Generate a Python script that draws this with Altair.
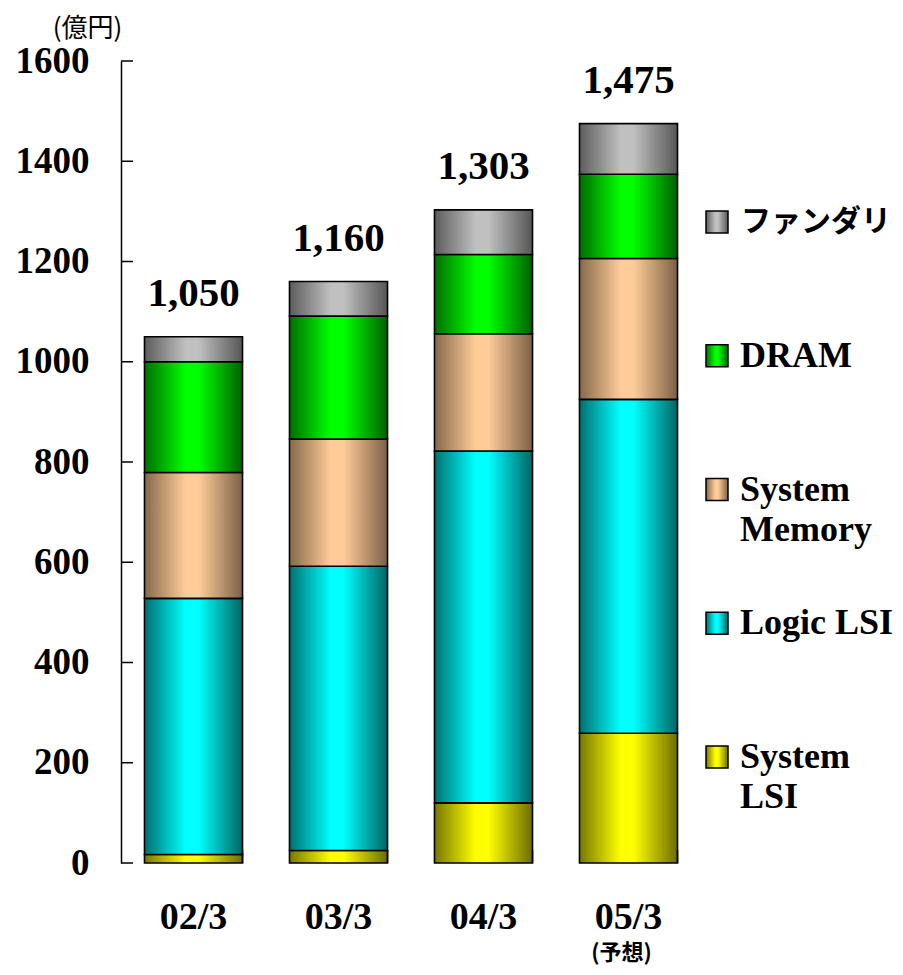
import altair as alt
import pandas as pd

# ---------------- data ----------------
categories = ["02/3", "03/3", "04/3", "05/3"]
notes = ["", "", "", "(予想)"]
series = ["System LSI", "Logic LSI", "System Memory", "DRAM", "ファンダリ"]
system_lsi = [17, 25, 120, 259]
logic_lsi = [511, 567, 702, 666]
system_memory = [251, 254, 234, 281]
dram = [221, 245, 158, 168]
foundry = [50, 69, 89, 101]
y_ticks = [0, 200, 400, 600, 800, 1000, 1200, 1400, 1600]

legend_order = ["ファンダリ", "DRAM", "System Memory", "Logic LSI", "System LSI"]
legend_line1 = ["ファンダリ", "DRAM", "System", "Logic LSI", "System"]
legend_line2 = ["", "", "Memory", "", "LSI"]

values_by_series = [system_lsi, logic_lsi, system_memory, dram, foundry]
rows = []
for si, (s, vals) in enumerate(zip(series, values_by_series)):
    for c, v in zip(categories, vals):
        rows.append({"cat": c, "series": s, "value": v, "order": si})
df = pd.DataFrame(rows)
tick_df = pd.DataFrame({"v": y_ticks})
cat_df = pd.DataFrame({"cat": categories, "note": notes})
leg_df = pd.DataFrame({"series": legend_order, "line1": legend_line1, "line2": legend_line2})

# ---------------- styles ----------------
def grad(dark_l, bright, dark_r):
    return alt.Gradient(
        gradient="linear", x1=0, x2=1, y1=0, y2=0,
        stops=[
            alt.GradientStop(offset=0, color=dark_l),
            alt.GradientStop(offset=0.42, color=bright),
            alt.GradientStop(offset=0.55, color=bright),
            alt.GradientStop(offset=1, color=dark_r),
        ],
    )

fills = {
    "System LSI": grad("#777700", "#ffff00", "#6c6c00"),
    "Logic LSI": grad("#007070", "#00ffff", "#006464"),
    "System Memory": grad("#86684a", "#ffcc99", "#7c6046"),
    "DRAM": grad("#006e00", "#00ff00", "#006000"),
    "ファンダリ": grad("#5c5c5c", "#c0c0c0", "#565656"),
}

W, H = 580, 802
SERIF = "Liberation Serif"
CJK = "Noto Sans CJK JP"

xscale = alt.Scale(paddingInner=0.324, paddingOuter=0.162)
yscale = alt.Scale(domain=[0, 1600], nice=False)

xaxis = alt.Axis(
    title=None, labels=False, ticks=False,
    domainColor="black", domainWidth=1.5, grid=False,
)
yaxis = alt.Axis(
    values=y_ticks, format="d", title="(億円)", titleAngle=0, titleX=-34, titleY=-33,
    titleAlign="center", titleBaseline="middle", titleFont=CJK,
    titleFontSize=26, titleFontWeight="normal", titleColor="black",
    labelFont=SERIF, labelFontWeight="bold", labelFontSize=37,
    labelColor="black", labelPadding=32, ticks=False,
    domainColor="black", domainWidth=1.5, grid=False,
    labelFlush=False, labelOverlap=False,
)

def X(axis=None, **kw):
    return alt.X("cat:N", sort=categories, scale=xscale, axis=axis, **kw)

def Yq(field, axis=None):
    return alt.Y(field, scale=yscale, axis=axis)

base = alt.Chart(df).transform_stack(
    stack="value", groupby=["cat"], as_=["y0", "y1"],
    sort=[alt.SortField("order", order="ascending")],
)

layers = []
for i, s in enumerate(series):
    layers.append(
        base.transform_filter(alt.datum.series == s)
        .mark_bar(fill=fills[s], stroke="black", strokeWidth=1.6)
        .encode(
            x=X(xaxis if i == 0 else None),
            y=Yq("y0:Q", yaxis if i == 0 else None),
            y2="y1:Q",
        )
    )

# inward ticks
layers.append(
    alt.Chart(tick_df).mark_rule(color="black", strokeWidth=1.5).encode(
        y=Yq("v:Q"), x=alt.value(0), x2=alt.value(12),
    )
)
layers.append(
    alt.Chart(cat_df).mark_rule(color="black", strokeWidth=1.5).encode(
        x=X(None, bandPosition=1), y=alt.value(H - 13), y2=alt.value(H),
    )
)
# totals
layers.append(
    alt.Chart(df).transform_aggregate(total="sum(value)", groupby=["cat"])
    .mark_text(font=SERIF, fontWeight="bold", fontSize=41, baseline="alphabetic",
               dy=-31, color="black")
    .encode(x=X(None), y=Yq("total:Q"), text=alt.Text("total:Q", format=",d"))
)
# category labels
layers.append(
    alt.Chart(cat_df).mark_text(font=SERIF, fontWeight="bold", fontSize=38,
                                baseline="alphabetic", color="black")
    .encode(x=X(None), y=alt.value(H + 66), text="cat:N")
)
layers.append(
    alt.Chart(cat_df).mark_text(font=CJK, fontWeight="bold", fontSize=22,
                                baseline="bottom", dx=-7, color="black")
    .encode(x=X(None), y=alt.value(H + 102), text="note:N")
)

# ---------------- legend ----------------
leg_y = alt.Y(
    "series:N", sort=legend_order,
    scale=alt.Scale(type="point", domain=legend_order, range=[161, 696], padding=0),
    axis=None,
)
for s in legend_order:
    layers.append(
        alt.Chart(leg_df).transform_filter(alt.datum.series == s)
        .mark_square(size=484, fill=fills[s], stroke="black", strokeWidth=1.5, opacity=1)
        .encode(x=alt.value(596), y=leg_y)
    )
layers.append(
    alt.Chart(leg_df).transform_filter(alt.datum.series != "ファンダリ")
    .mark_text(align="left", baseline="middle", font=SERIF, fontWeight="bold",
               fontSize=36, color="black")
    .encode(x=alt.value(619), y=leg_y, text="line1:N")
)
layers.append(
    alt.Chart(leg_df).transform_filter(alt.datum.series == "ファンダリ")
    .mark_text(align="left", baseline="middle", font=CJK, fontWeight="bold",
               fontSize=30, color="black")
    .encode(x=alt.value(620), y=leg_y, text="line1:N")
)
layers.append(
    alt.Chart(leg_df).mark_text(align="left", baseline="middle", font=SERIF,
                                fontWeight="bold", fontSize=36, color="black", dy=40)
    .encode(x=alt.value(619), y=leg_y, text="line2:N")
)

chart = (
    alt.layer(*layers)
    .resolve_scale(y="independent")
    .properties(
        width=W, height=H,
        autosize=alt.AutoSizeParams(type="none"),
        padding={"left": 113, "top": 53, "right": 194, "bottom": 104},
        background="white",
    )
    .configure_view(stroke=None)
)

chart.save("out.html", embed_options={"renderer": "svg", "actions": False})
